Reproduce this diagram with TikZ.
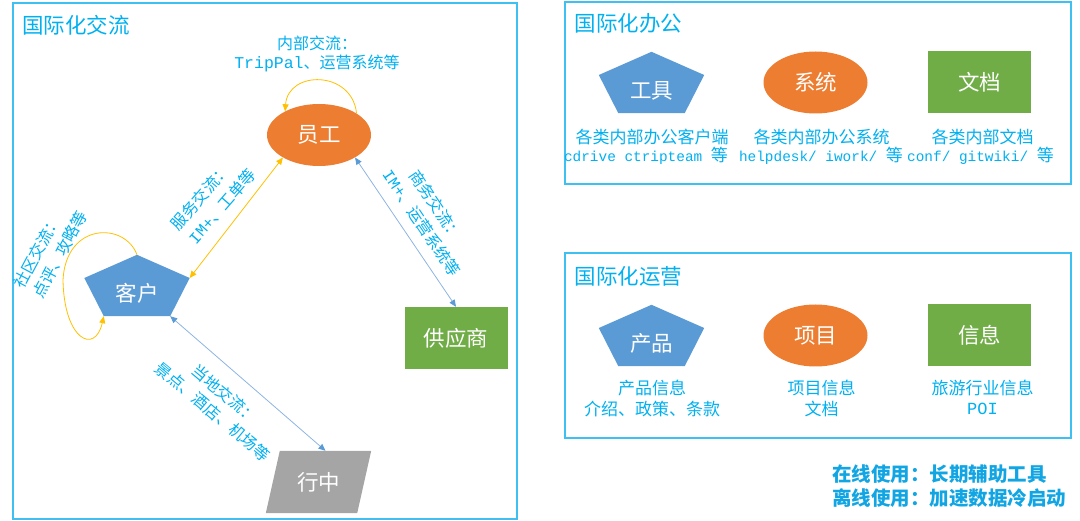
\documentclass[tikz,border=0pt]{standalone}
\usepackage{fontspec}
\setmainfont{Noto Sans CJK SC}
\newfontfamily\mono{Liberation Mono}
\usetikzlibrary{arrows.meta,shapes.geometric,backgrounds}
\definecolor{tblue}{HTML}{00B0F0}
\definecolor{frame}{HTML}{3FC0F2}
\definecolor{pblue}{HTML}{5B9BD5}
\definecolor{porange}{HTML}{ED7D31}
\definecolor{pgreen}{HTML}{70AD47}
\definecolor{pgray}{HTML}{A5A5A5}
\definecolor{pyellow}{HTML}{FFC000}
\definecolor{lblue}{HTML}{8DB4E2}
\definecolor{bblue}{HTML}{12A5E3}
\newcommand\pentfill[1]{\fill[pblue] (#1.north) -- ([yshift=7.5pt]#1.east) -- ([xshift=-19.5pt]#1.south east) -- ([xshift=19.5pt]#1.south west) -- ([yshift=7.5pt]#1.west) -- cycle;}
\newcommand\paraFill[1]{\fill[pgray] ([xshift=7pt]#1.north west) -- ([xshift=7pt]#1.north east) -- ([xshift=-7pt]#1.south east) -- ([xshift=-7pt]#1.south west) -- cycle;}
\begin{document}
\begin{tikzpicture}[x=1pt,y=-1pt,
  panelbox/.style={draw=frame,line width=2pt},
  titletext/.style={text=tblue,font=\fontsize{21.5}{24}\selectfont,inner sep=0},
  lbl/.style={text=tblue,font=\fontsize{16}{19}\selectfont,inner sep=0},
  captext/.style={text=tblue,font=\fontsize{17}{20}\selectfont,inner sep=0},
  notetext/.style={text=bblue,font=\fontsize{19.5}{22}\selectfont\bfseries,inner sep=0,anchor=west},
  shapetext/.style={text=white,font=\fontsize{21.5}{24}\selectfont,inner sep=0},
  pentbox/.style={shapetext,minimum width=105pt,minimum height=61pt,text height=33.5pt,text depth=1.5pt},
  oval/.style={shapetext,ellipse,fill=porange,minimum width=104pt,minimum height=62pt},
  greenbox/.style={shapetext,rectangle,fill=pgreen,minimum width=103pt,minimum height=62pt},
  parabox/.style={shapetext,minimum width=91pt,minimum height=62pt},
  yel/.style={draw=pyellow,line width=0.8pt},
  blu/.style={draw=lblue,line width=0.8pt},
  ytip/.tip={Triangle[length=7pt,width=6pt,color=pyellow]},
  btip/.tip={Triangle[length=7pt,width=6pt,color=pblue]}
]
\useasboundingbox (0,0) rectangle (1080,521);

% panels
\draw[panelbox] (13,3) rectangle (517,519);
\draw[panelbox] (565,2) rectangle (1071,184);
\draw[panelbox] (565,253) rectangle (1071,438);

\node[titletext] (t1) at (76,25) {国际化交流};
\node[titletext] (t2) at (628.5,23) {国际化办公};
\node[titletext] (t3) at (628.5,276) {国际化运营};

% left panel nodes
\node[oval] (emp) at (319,135) {员工};
\node[pentbox] (cust) at (137,285.5) {客户};
\node[greenbox] (sup) at (456,338) {供应商};
\node[parabox] (trip) at (318.5,482) {行中};

% right top
\node[pentbox] (tool) at (651.5,82.5) {工具};
\node[oval] (sys) at (815.5,82.5) {系统};
\node[greenbox] (doc) at (979.5,82.5) {文档};
% right bottom
\node[pentbox] (prod) at (651.5,335.5) {产品};
\node[oval] (proj) at (815.5,335.5) {项目};
\node[greenbox] (info) at (979.5,335.5) {信息};

\begin{scope}[on background layer]
  \pentfill{cust}
  \pentfill{tool}
  \pentfill{prod}
  \paraFill{trip}
\end{scope}

% connectors
\draw[yel,ytip-ytip] ([yshift=7.5pt]cust.east) -- (emp.212);
\draw[blu,btip-btip] (emp.-32) -- (sup.north);
\draw[blu,btip-btip] ([xshift=-19.5pt]cust.south east) -- ([xshift=7pt]trip.north);
\draw[yel,-ytip] (emp.30) .. controls (352,70) and (288,70) .. (emp.145);
\draw[yel,-ytip] (cust.north) .. controls (125,222) and (66,222) .. (63,280)
  .. controls (64,340) and (95,355) .. ([xshift=19.5pt]cust.south west);

% labels left panel
\node[lbl] (la1) at (317,43) {内部交流：};
\node[lbl] (la2) at (317,63) {{\mono\fontsize{16.5}{19}\selectfont TripPal}、运营系统等};
\node[lbl,rotate=49] (lb1) at (200.4,197) {服务交流：};
\node[lbl,rotate=49] (lb2) at (222,206) {{\mono IM+}、工单等};
\node[lbl,rotate=-56] (lc1) at (436.2,205.2) {商务交流：};
\node[lbl,rotate=-56] (lc2) at (421.8,222.8) {{\mono IM+}、运营系统等};
\node[lbl,rotate=62] (ld1) at (37.2,251.6) {社区交流：};
\node[lbl,rotate=62] (ld2) at (59.8,254.4) {点评、攻略等};
\node[lbl,rotate=-40] (le1) at (225,393.9) {当地交流：};
\node[lbl,rotate=-40] (le2) at (213,411.6) {景点、酒店、机场等};

% captions top right
\node[captext] (c1a) at (652,137) {各类内部办公客户端};
\node[captext] (c1b) at (646,156) {{\mono\fontsize{14.4}{17}\selectfont cdrive ctripteam }等};
\node[captext] (c2a) at (821.5,137) {各类内部办公系统};
\node[captext] (c2b) at (821,156) {{\mono\fontsize{14.4}{17}\selectfont helpdesk/ iwork/ }等};
\node[captext] (c3a) at (982.5,137) {各类内部文档};
\node[captext] (c3b) at (980.5,156) {{\mono\fontsize{14.4}{17}\selectfont conf/ gitwiki/  }等};

% captions bottom right
\node[captext] (d1a) at (652,388) {产品信息};
\node[captext] (d1b) at (652,409) {介绍、政策、条款};
\node[captext] (d2a) at (821.5,388) {项目信息};
\node[captext] (d2b) at (821.5,409) {文档};
\node[captext] (d3a) at (982.5,388) {旅游行业信息};
\node[captext] (d3b) at (982.5,409) {{\mono POI}};

% notes
\node[notetext] (n1) at (832,474) {在线使用：长期辅助工具};
\node[notetext] (n2) at (832,498) {离线使用：加速数据冷启动};
\end{tikzpicture}
\end{document}
